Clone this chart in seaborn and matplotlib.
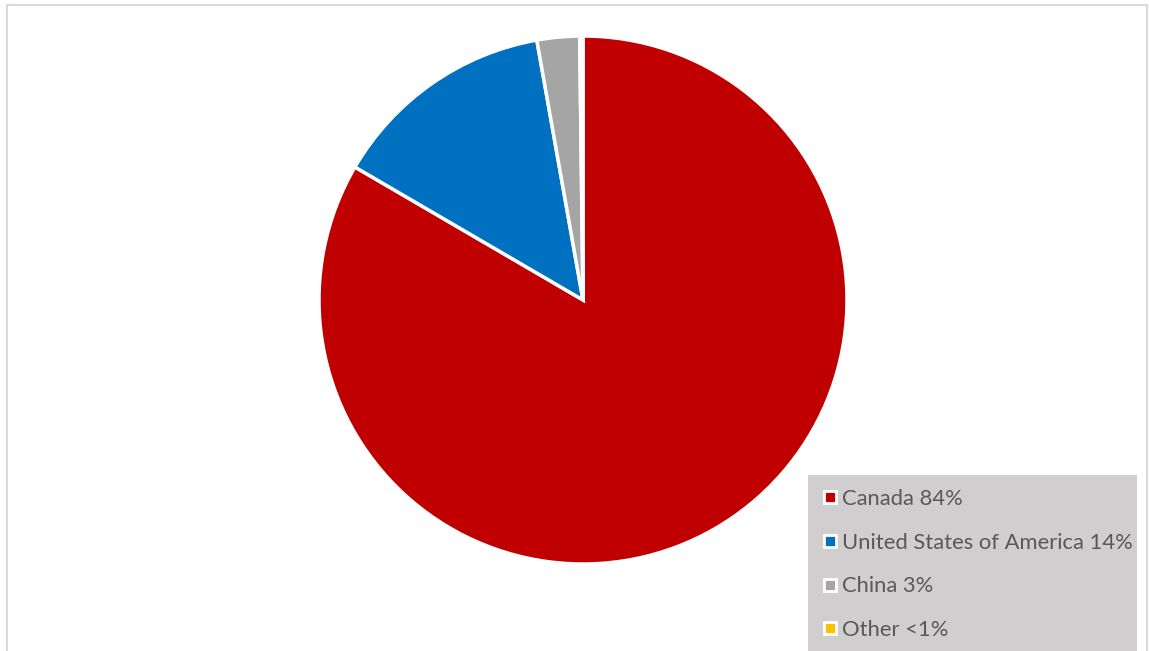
import matplotlib
matplotlib.use("Agg")
import matplotlib.pyplot as plt
from matplotlib.lines import Line2D
from matplotlib.patches import Rectangle
import seaborn as sns

# data
countries = ["Canada", "United States of America", "China", "Other"]
shares = [83.4, 13.8, 2.6, 0.2]
legend_labels = ["Canada 84%", "United States of America 14%", "China 3%", "Other <1%"]
colors = ["#C00000", "#0070C0", "#A5A5A5", "#FFC000"]

sns.set_theme(style="white")
plt.rcParams["font.family"] = ["Lato", "DejaVu Sans"]

W, H = 1149, 651
fig = plt.figure(figsize=(W / 100, H / 100), dpi=100)

# light chart frame
fig.patches.append(Rectangle((7 / W, -0.05), (1147 - 7) / W, (H - 5) / H + 0.05,
                             transform=fig.transFigure, fill=False,
                             edgecolor="#D9D9D9", linewidth=1.5))

# pie
cx, cy, r = 583, 300, 264
ax = fig.add_axes([(cx - r) / W, (H - cy - r) / H, 2 * r / W, 2 * r / H])
ax.pie(shares, colors=colors, startangle=90, counterclock=False, radius=1,
       wedgeprops=dict(edgecolor="white", linewidth=2.5))
ax.set_xlim(-1, 1)
ax.set_ylim(-1, 1)
ax.set_aspect("equal")
ax.axis("off")

# legend box
fig.patches.append(Rectangle((808 / W, -0.05), (1137 - 808) / W, (H - 475) / H + 0.05,
                             transform=fig.transFigure, facecolor="#D0CECE",
                             edgecolor="none", zorder=0))
handles = [Line2D([], [], linestyle="none", marker="s", markersize=8.5,
                  markerfacecolor=c, markeredgecolor="white", markeredgewidth=2)
           for c in colors]
fig.legend(handles, legend_labels, loc="upper left",
           bbox_to_anchor=(812 / W, (H - 478) / H), frameon=False,
           fontsize=15.8, labelcolor="#595959", handlelength=0.6,
           handletextpad=0.28, labelspacing=1.08, borderpad=0)

fig.savefig("out.png", dpi=100)
